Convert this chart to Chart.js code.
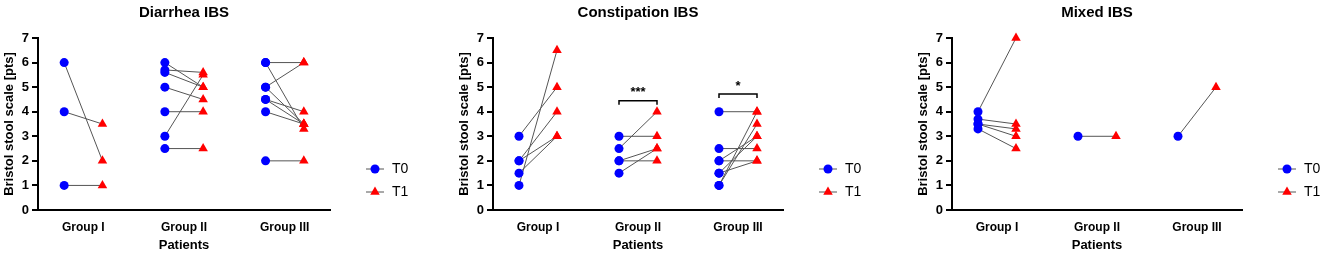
<!DOCTYPE html>
<html>
<head>
<meta charset="utf-8">
<script src="https://cdn.jsdelivr.net/npm/chart.js@4.4.1/dist/chart.umd.min.js"></script>
<style>
  body { margin: 0; background: #fff; }
  .panel { position: absolute; top: 0; }
</style>
</head>
<body>
<div class="panel" style="left:0px"><canvas id="diarrhea" width="440" height="253"></canvas></div>
<div class="panel" style="left:440px"><canvas id="constipation" width="440" height="253"></canvas></div>
<div class="panel" style="left:880px"><canvas id="mixed" width="445" height="253"></canvas></div>
<script>
const groups = ['Group I', 'Group II', 'Group III'];

// paired values per group, T0[i] goes with T1[i]
const diarrheaT0 = [[6, 4, 1], [6, 5.7, 5.6, 5, 4, 3, 2.5], [6, 6, 5, 5, 4.5, 4.5, 4, 2]];
const diarrheaT1 = [[2, 3.5, 1], [5, 5.6, 5, 4.5, 4, 5.5, 2.5], [6, 3.3, 6, 3.5, 4, 3.5, 3.5, 2]];

const constipationT0 = [[3, 2, 2, 1.5, 1], [3, 2.5, 2, 2, 1.5], [4, 2.5, 2, 2, 1.5, 1.5, 1, 1]];
const constipationT1 = [[5, 4, 3, 3, 6.5], [3, 4, 2.5, 2, 2.5], [4, 2.5, 3, 2, 3, 2, 4, 3.5]];

const mixedT0 = [[4, 3.7, 3.5, 3.5, 3.3], [3], [3]];
const mixedT1 = [[7, 3.5, 3.3, 3, 2.5], [3], [5]];

const constipationMarks = [
  { group: 2, y: 4.45, label: '***' },
  { group: 3, y: 4.72, label: '*' }
];

const blue = '#0000ff';
const red = '#ff0000';
const pairLine = '#555555';
const off = 0.19;

Chart.defaults.font.family = "'Liberation Sans', Arial, sans-serif";
Chart.defaults.color = '#000';

function buildDatasets(t0, t1) {
  const sets = [];
  const a = [], b = [];
  t0.forEach((vals, gi) => {
    vals.forEach((v, i) => {
      const p0 = { x: gi + 1 - off, y: v };
      const p1 = { x: gi + 1 + off, y: t1[gi][i] };
      a.push(p0);
      b.push(p1);
      sets.push({
        type: 'line', data: [p0, p1], borderColor: pairLine, borderWidth: 1,
        pointRadius: 0, order: 2, clip: false
      });
    });
  });
  sets.push({ label: 'T1', data: b, pointStyle: 'triangle', pointRadius: 5.5,
    backgroundColor: red, borderColor: red, borderWidth: 0, order: 0, clip: false });
  sets.push({ label: 'T0', data: a, pointStyle: 'circle', pointRadius: 4.5,
    backgroundColor: blue, borderColor: blue, borderWidth: 0, order: 1, clip: false });
  return sets;
}

function drawTriangle(ctx, x, y, r) {
  ctx.beginPath();
  for (let k = 0; k < 3; k++) {
    const ang = k * 2 * Math.PI / 3;
    const px = x + Math.sin(ang) * r, py = y - Math.cos(ang) * r;
    if (k === 0) ctx.moveTo(px, py); else ctx.lineTo(px, py);
  }
  ctx.closePath();
  ctx.fill();
}

const sideLegend = {
  id: 'sideLegend',
  afterDraw(chart) {
    const { ctx, chartArea } = chart;
    const mx = chartArea.right + 45;
    const items = [
      { text: 'T0', y: chartArea.bottom - 41, color: blue, shape: 'circle' },
      { text: 'T1', y: chartArea.bottom - 18, color: red, shape: 'triangle' }
    ];
    ctx.save();
    items.forEach(it => {
      ctx.strokeStyle = pairLine;
      ctx.lineWidth = 1;
      ctx.beginPath();
      ctx.moveTo(mx - 9, it.y);
      ctx.lineTo(mx + 9, it.y);
      ctx.stroke();
      ctx.fillStyle = it.color;
      if (it.shape === 'circle') {
        ctx.beginPath();
        ctx.arc(mx, it.y, 4.5, 0, Math.PI * 2);
        ctx.fill();
      } else {
        drawTriangle(ctx, mx, it.y, 5.5);
      }
      ctx.fillStyle = '#000';
      ctx.font = "14px 'Liberation Sans', Arial, sans-serif";
      ctx.textBaseline = 'middle';
      ctx.textAlign = 'left';
      ctx.fillText(it.text, mx + 17, it.y);
    });
    ctx.restore();
  }
};

const sigBrackets = {
  id: 'sigBrackets',
  afterDatasetsDraw(chart, args, opts) {
    const marks = opts.marks || [];
    const { ctx, scales: { x, y } } = chart;
    ctx.save();
    marks.forEach(m => {
      const x0 = x.getPixelForValue(m.group - off);
      const x1 = x.getPixelForValue(m.group + off);
      const py = y.getPixelForValue(m.y);
      ctx.strokeStyle = '#000';
      ctx.lineWidth = 1.5;
      ctx.beginPath();
      ctx.moveTo(x0, py + 4);
      ctx.lineTo(x0, py);
      ctx.lineTo(x1, py);
      ctx.lineTo(x1, py + 4);
      ctx.stroke();
      ctx.fillStyle = '#000';
      ctx.font = "bold 13px 'Liberation Sans', Arial, sans-serif";
      ctx.textAlign = 'center';
      ctx.textBaseline = 'middle';
      ctx.fillText(m.label, (x0 + x1) / 2, py - 8);
    });
    ctx.restore();
  }
};

function makePanel(id, title, t0, t1, marks, padLeft, padRight) {
  return new Chart(document.getElementById(id), {
    type: 'scatter',
    data: { datasets: buildDatasets(t0, t1) },
    options: {
      responsive: false,
      animation: false,
      layout: { padding: { left: padLeft, right: padRight, top: 0, bottom: 0 } },
      plugins: {
        legend: { display: false },
        tooltip: { enabled: false },
        title: {
          display: true, text: title, fullSize: false,
          font: { size: 15, weight: 'bold' },
          padding: { top: 4, bottom: 16 }
        },
        sigBrackets: { marks: marks }
      },
      scales: {
        x: {
          type: 'linear', min: 0.55, max: 3.45,
          afterBuildTicks: s => { s.ticks = groups.map((g, i) => ({ value: i + 1 })); },
          afterFit: s => { s.height = 43; },
          grid: { display: false, drawTicks: false },
          border: { display: true, color: '#000', width: 2 },
          ticks: {
            autoSkip: false, maxRotation: 0, padding: 10,
            font: { size: 12, weight: 'bold' },
            callback: v => groups[v - 1]
          },
          title: {
            display: true, text: 'Patients',
            font: { size: 13, weight: 'bold' },
            padding: { top: 0, bottom: 0 }
          }
        },
        y: {
          min: 0, max: 7,
          afterFit: s => { s.width = 38; },
          grid: { drawOnChartArea: false, drawTicks: true, tickLength: 6, color: '#000', lineWidth: 2 },
          border: { display: true, color: '#000', width: 2 },
          ticks: { stepSize: 1, padding: 3, font: { size: 13, weight: 'bold' } },
          title: {
            display: true, text: 'Bristol stool scale [pts]',
            font: { size: 13, weight: 'bold' },
            padding: { top: 2, bottom: 0 }
          }
        }
      }
    },
    plugins: [sideLegend, sigBrackets]
  });
}

makePanel('diarrhea', 'Diarrhea IBS', diarrheaT0, diarrheaT1, [], 0, 110);
makePanel('constipation', 'Constipation IBS', constipationT0, constipationT1, constipationMarks, 15, 97);
makePanel('mixed', 'Mixed IBS', mixedT0, mixedT1, [], 34, 83);
</script>
</body>
</html>
